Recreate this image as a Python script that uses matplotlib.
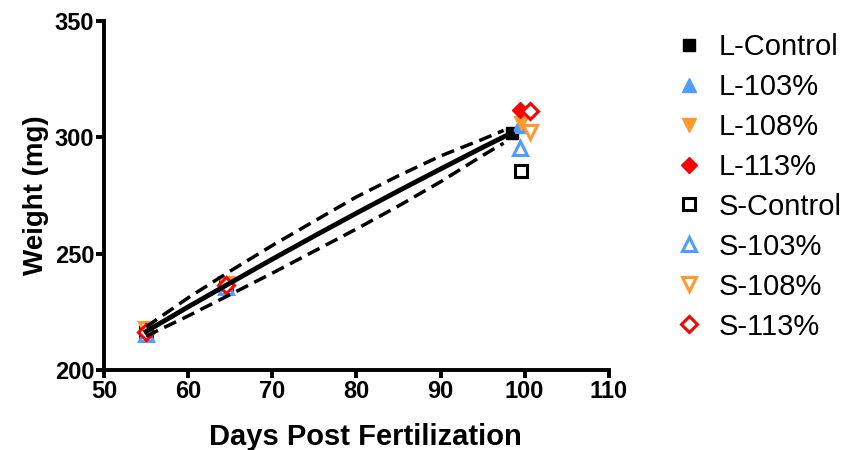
import matplotlib
matplotlib.use("Agg")
from matplotlib import pyplot as plt

plt.rcParams['font.family'] = ['Liberation Sans', 'DejaVu Sans']

# groups: days and weights (mg)
groups = ["L-Control", "L-103%", "L-108%", "L-113%",
          "S-Control", "S-103%", "S-108%", "S-113%"]
days = {
    "L-Control": [55.0, 64.5, 98.5],
    "L-103%": [55.0, 64.5, 99.3],
    "L-108%": [55.0, 64.5, 99.6],
    "L-113%": [55.0, 64.5, 99.4],
    "S-Control": [55.0, 64.5, 99.6],
    "S-103%": [55.0, 64.5, 99.4],
    "S-108%": [55.0, 64.5, 100.6],
    "S-113%": [55.0, 64.5, 100.6],
}
weights = {
    "L-Control": [216.5, 236.4, 302.0],
    "L-103%": [215.5, 235.5, 305.0],
    "L-108%": [217.5, 237.0, 306.0],
    "L-113%": [216.5, 236.5, 312.0],
    "S-Control": [216.0, 236.0, 285.7],
    "S-103%": [215.5, 235.5, 295.6],
    "S-108%": [217.5, 237.0, 302.5],
    "S-113%": [216.5, 236.5, 311.5],
}
colors = ["black", "#4f9dff", "#ff9a33", "#ff0000"] * 2
markers = ["s", "^", "v", "D"] * 2

# fitted curve and confidence band
fit_x = [55, 60, 65, 70, 75, 80, 85, 90, 95, 98.5]
fit_y = [216.5, 227.1, 237.4, 247.6, 257.6, 267.4, 277.0, 286.4, 295.7, 302.0]
band_x = [55, 60, 65, 70, 75, 80, 85, 90, 95, 97.5]
band_hi = [218.5, 231.0, 242.5, 253.5, 264.0, 274.4, 283.5, 292.0, 299.2, 303.0]
band_lo = [214.5, 223.2, 232.4, 241.6, 251.1, 260.6, 270.5, 280.9, 292.2, 297.5]

fig = plt.figure(figsize=(8.42, 4.5), dpi=100)
ax = fig.add_axes([0.1235, 0.178, 0.5995, 0.775])

for i, g in enumerate(groups):
    filled = g.startswith("L")
    ms = 9 if markers[i] in ("s", "D") else 10
    if markers[i] == "D":
        ms = 8
    ax.plot(days[g], weights[g], linestyle="none", marker=markers[i], markersize=ms,
            color=colors[i], markerfacecolor=colors[i] if filled else "white",
            markeredgewidth=2.2 if not filled else 1, label=g, zorder=3)

ax.plot(fit_x, fit_y, color="black", linewidth=3.5, zorder=4)
ax.plot(band_x, band_hi, color="black", linewidth=2.5, linestyle=(0, (3.8, 2.0)), zorder=4)
ax.plot(band_x, band_lo, color="black", linewidth=2.5, linestyle=(0, (3.8, 2.0)), zorder=4)

ax.set_xlim(50, 110)
ax.set_ylim(200, 350)
ax.set_xticks(range(50, 111, 10))
ax.set_yticks(range(200, 351, 50))
for s in ["top", "right"]:
    ax.spines[s].set_visible(False)
for s in ["left", "bottom"]:
    ax.spines[s].set_linewidth(2.8)
ax.tick_params(width=2.8, length=5.5, labelsize=17, pad=1.5)
for lab in ax.get_xticklabels() + ax.get_yticklabels():
    lab.set_fontweight("bold")
ax.set_xlabel("Days Post Fertilization", fontsize=21, fontweight="bold", labelpad=15)
ax.xaxis.label.set_x(0.518)
ax.set_ylabel("Weight (mg)", fontsize=20, fontweight="bold", labelpad=4)

ax.legend(loc="upper left", bbox_to_anchor=(0.801, 0.927), bbox_transform=fig.transFigure,
          frameon=False, fontsize=21, handlelength=1.0, handletextpad=0.5,
          labelspacing=0.41, borderpad=0, borderaxespad=0)

fig.savefig("out.png", dpi=100)
